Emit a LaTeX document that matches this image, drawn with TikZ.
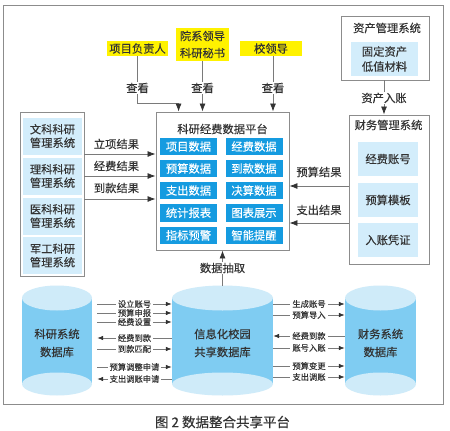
\documentclass[tikz,border=0pt]{standalone}
\usepackage{fontspec}
\setmainfont{Noto Sans CJK SC}[FakeBold=0.2]
\usetikzlibrary{arrows.meta,calc}
\definecolor{txt}{HTML}{333333}
\definecolor{ybg}{HTML}{FFF200}
\definecolor{lb}{HTML}{D3EDFB}
\definecolor{cb}{HTML}{159BE0}
\definecolor{fr}{HTML}{8C8C8C}
\definecolor{ln}{HTML}{7A7A7A}
\definecolor{cyltop}{HTML}{CFEBF9}
\definecolor{cylbody}{HTML}{7FCCF2}
\newcommand\mycyl[2]{%
  \fill[cylbody] (#1-#2,298) rectangle (#1+#2,384);
  \fill[cyltop] (#1,298) ellipse [x radius=#2, y radius=12.5];
  \fill[cyltop] (#1,384) ellipse [x radius=#2, y radius=11.5];
}
\begin{document}
\begin{tikzpicture}[x=1pt,y=-1pt,
  every node/.style={text=txt, font=\fontsize{11.3}{13.5}\selectfont, inner sep=0pt, align=center},
  frame/.style={draw=fr, line width=0.9pt, fill=white},
  yel/.style={fill=ybg, minimum height=15},
  lbox/.style={fill=lb},
  cell/.style={fill=cb, text=white, minimum width=57, minimum height=17.5},
  conn/.style={draw=ln, line width=0.8pt, -{Latex[length=8pt,width=6pt,color=txt]}},
  sline/.style={draw=ln, line width=0.7pt},
  sR/.style={-{Latex[length=6pt,width=4.5pt,color=txt]}},
  sL/.style={{Latex[length=6pt,width=4.5pt,color=txt]}-},
  lab/.style={fill=white, inner sep=1pt},
  slab/.style={fill=white, inner xsep=2pt, inner ysep=0pt, font=\fontsize{8.3}{9}\selectfont},
  dbt/.style={font=\fontsize{11.3}{18}\selectfont}
]
\fill[white] (0,0) rectangle (450,431);
\useasboundingbox (0,0) rectangle (450,431);

% outer frame
\node[frame, fill=none, minimum width=440, minimum height=399] (outer) at (223,204.5) {};

% top roles
\node[yel, minimum width=61] (y1) at (137.5,48.5) {项目负责人};
\node[yel, minimum width=53, minimum height=33, font=\fontsize{11.3}{17}\selectfont] (y2) at (202.5,44.5) {院系领导\\科研秘书};
\node[yel, minimum width=62] (y3) at (271,48.5) {校领导};

% platform
\node[frame, minimum width=133, minimum height=138] (plat) at (222.5,181) {};
\node (ptitle) at (222.5,129) {科研经费数据平台};
\node[cell] (c11) at (188.5,146.5) {项目数据};
\node[cell] (c12) at (254,146.5) {经费数据};
\node[cell] (c21) at (188.5,168.5) {预算数据};
\node[cell] (c22) at (254,168.5) {到款数据};
\node[cell] (c31) at (188.5,190.5) {支出数据};
\node[cell] (c32) at (254,190.5) {决算数据};
\node[cell] (c41) at (188.5,212.8) {统计报表};
\node[cell] (c42) at (254,212.8) {图表展示};
\node[cell] (c51) at (188.5,235.3) {指标预警};
\node[cell] (c52) at (254,235.3) {智能提醒};

% view arrows
\draw[conn] (y1.south) -- ++(0,47) -| ([xshift=23pt]plat.north west);
\draw[conn] (y2.south) -- (y2.south |- plat.north);
\coordinate (c3) at ($(y3.south)+(2,0)$);
\draw[conn] (c3) -- (c3 |- plat.north);
\node[lab] (v1) at (137.5,88) {查看};
\node[lab] (v2) at (202.5,88) {查看};
\node[lab] (v3) at (273,88) {查看};

% left group
\node[frame, minimum width=64, minimum height=164] (lg) at (52,194) {};
\node[lbox, minimum width=59, minimum height=37] (wk) at (52.5,136) {文科科研\\管理系统};
\node[lbox, minimum width=59, minimum height=37] (lk) at (52.5,176) {理科科研\\管理系统};
\node[lbox, minimum width=59, minimum height=37] (yk) at (52.5,216) {医科科研\\管理系统};
\node[lbox, minimum width=59, minimum height=37] (jg) at (52.5,255.5) {军工科研\\管理系统};

\coordinate (a1) at ($(lg.east)+(0,154-194)$);
\coordinate (a2) at ($(lg.east)+(0,176-194)$);
\coordinate (a3) at ($(lg.east)+(0,199-194)$);
\draw[conn] (a1) -- (a1 -| plat.west) node[pos=0.45, yshift=10pt] {立项结果};
\draw[conn] (a2) -- (a2 -| plat.west) node[pos=0.45, yshift=10pt] {经费结果};
\draw[conn] (a3) -- (a3 -| plat.west) node[pos=0.45, yshift=11pt] {到款结果};

% asset system
\node[frame, minimum width=88, minimum height=64] (asset) at (385,48) {};
\node (atitle) at (387,28) {资产管理系统};
\node[lbox, minimum width=67, minimum height=34, font=\fontsize{11.3}{15}\selectfont] (gd) at (384.5,59) {固定资产\\低值材料};

% finance system
\node[frame, minimum width=80, minimum height=149] (fin) at (389,189.5) {};
\node (ftitle) at (388.5,125) {财务管理系统};
\node[lbox, minimum width=60, minimum height=34] (jf) at (388,159) {经费账号};
\node[lbox, minimum width=60, minimum height=34] (ys) at (388,200) {预算模板};
\node[lbox, minimum width=60, minimum height=34] (rz) at (388,240) {入账凭证};

\coordinate (z1) at ($(asset.south)+(-1,0)$);
\draw[conn] (z1) -- (z1 |- fin.north);
\node[lab] (zl) at (384,98) {资产入账};

\coordinate (b1) at ($(fin.west)+(0,186-189.5)$);
\coordinate (b2) at ($(fin.west)+(0,223-189.5)$);
\draw[conn] (b1) -- (b1 -| plat.east) node[midway, yshift=14pt] {预算结果};
\draw[conn] (b2) -- (b2 -| plat.east) node[midway, yshift=13pt] {支出结果};

% cylinders
\mycyl{57}{35}
\mycyl{222.5}{50.5}
\mycyl{380.5}{35.5}
\node[dbt, minimum width=70, minimum height=114] (kdb) at (57,343) {科研系统\\数据库};
\node[dbt, minimum width=101, minimum height=114] (sdb) at (222.5,343) {信息化校园\\共享数据库};
\node[dbt, minimum width=71, minimum height=114] (fdb) at (380.5,343) {财务系统\\数据库};

\draw[conn] (sdb.north) -- (plat.south);
\node[lab] (ex) at (222.5,268) {数据抽取};

\foreach \yy/\lbl/\st in {304/设立账号/sR, 313/预算申报/sR, 322/经费设置/sR, 338/经费到款/sL, 349/到款匹配/sR, 367/预算调整申请/sR, 379/支出调账申请/sL}
  \draw[sline,\st] ($(kdb.east)+(5,\yy-343)$) -- ($(sdb.west)+(0,\yy-343)$) node[midway, slab] {\lbl};

\foreach \yy/\lbl/\st in {304/生成账号/sR, 315/预算导入/sR, 336/经费到款/sL, 348/账号入账/sR, 366/预算变更/sR, 377/支出调账/sR}
  \draw[sline,\st] ($(sdb.east)+(0,\yy-343)$) -- ($(fdb.west)+(0,\yy-343)$) node[midway, slab] {\lbl};

% caption
\node[font=\fontsize{13.5}{16}\selectfont] (cap) at (222.5,422) {图 2 数据整合共享平台};
\end{tikzpicture}
\end{document}
